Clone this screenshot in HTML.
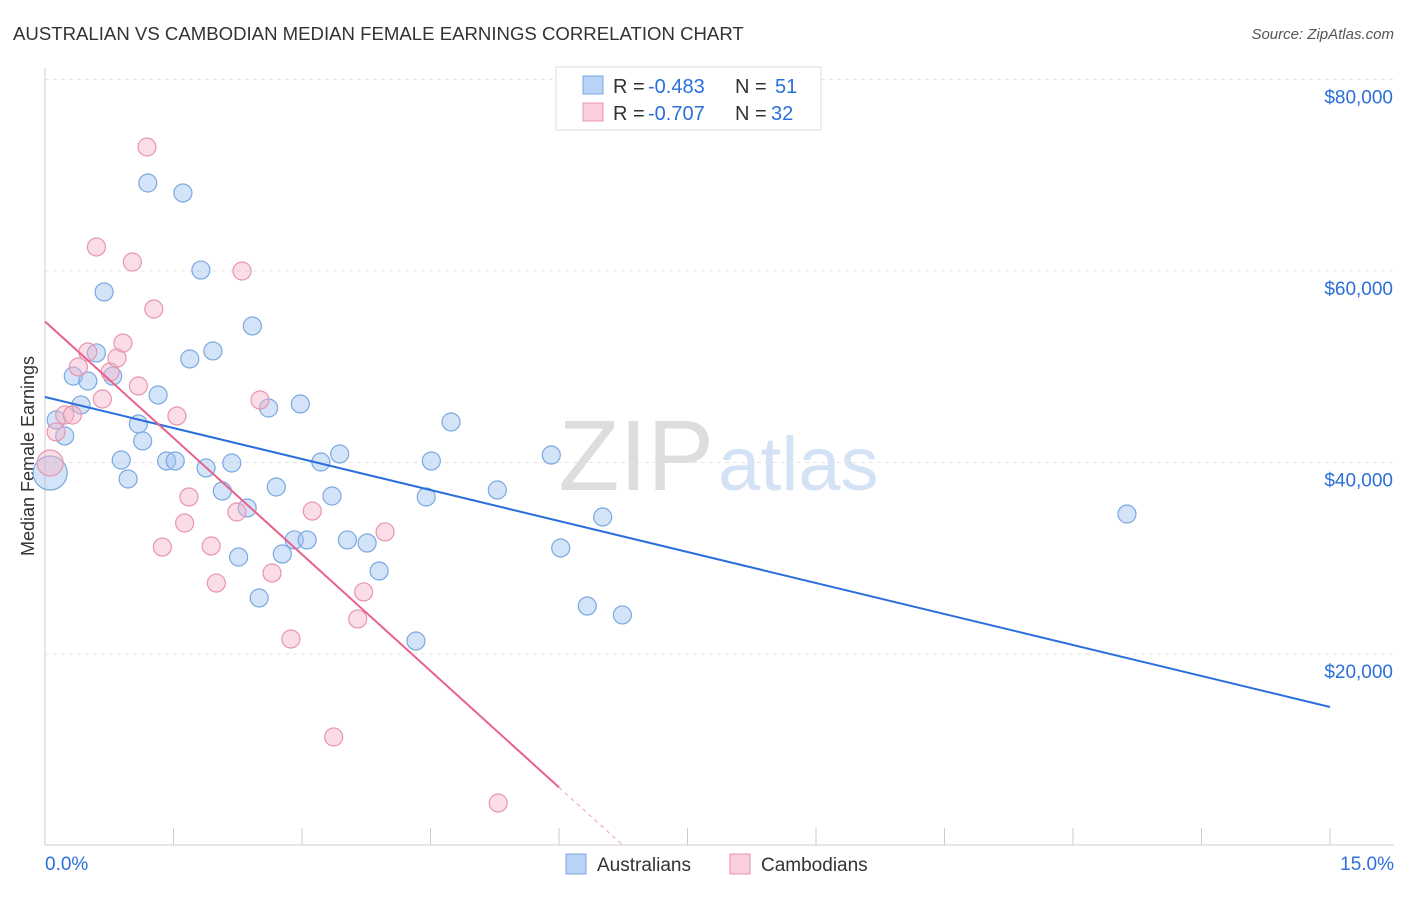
<!DOCTYPE html>
<html><head><meta charset="utf-8"><style>
body{margin:0;background:#fff;font-family:"Liberation Sans",sans-serif}
svg text{font-family:"Liberation Sans",sans-serif}
</style></head><body>
<svg id="c" width="1406" height="892">
<text x="13" y="40" font-size="18.6" fill="#333">AUSTRALIAN VS CAMBODIAN MEDIAN FEMALE EARNINGS CORRELATION CHART</text>
<text x="1394" y="39" font-size="15" fill="#555" font-style="italic" text-anchor="end">Source: ZipAtlas.com</text>
<text x="714" y="490" font-size="100" fill="#ddd" text-anchor="end" font-family="Liberation Serif">ZIP</text>
<text x="718" y="490" font-size="76" fill="#d4e2f5">atlas</text>
<text transform="translate(34,456) rotate(-90)" font-size="18" fill="#333" text-anchor="middle">Median Female Earnings</text>
<g id="grid"></g><g id="ticks"></g><g id="pts"></g><g id="lines"></g>
<g>
<rect x="556" y="67" width="265" height="63" fill="#fff" stroke="#ddd"/>
<rect x="583" y="76" width="20" height="18" fill="#b8d3f5" stroke="#7aa8e0"/>
<text x="613" y="93" font-size="20" fill="#333">R =</text>
<text x="648" y="93" font-size="20" fill="#2a6fdb">-0.483</text>
<text x="735" y="93" font-size="20" fill="#333">N =</text>
<text x="775" y="93" font-size="20" fill="#2a6fdb">51</text>
<rect x="583" y="103" width="20" height="18" fill="#fbd0dc" stroke="#e895b0"/>
<text x="613" y="120" font-size="20" fill="#333">R =</text>
<text x="648" y="120" font-size="20" fill="#2a6fdb">-0.707</text>
<text x="735" y="120" font-size="20" fill="#333">N =</text>
<text x="771" y="120" font-size="20" fill="#2a6fdb">32</text>
</g>
<g>
<rect x="566" y="854" width="20" height="20" fill="#b8d3f5" stroke="#7aa8e0"/>
<text x="597" y="871" font-size="19" fill="#333">Australians</text>
<rect x="730" y="854" width="20" height="20" fill="#fbd0dc" stroke="#e895b0"/>
<text x="761" y="871" font-size="19" fill="#333">Cambodians</text>
</g>
</svg>
<script>
const blueX=[0.13,0.06,0.23,0.33,0.50,0.42,0.60,0.69,0.79,0.89,0.97,1.09,1.14,1.20,1.32,1.42,1.52,1.61,1.69,1.82,1.88,1.96,2.07,2.18,2.26,2.36,2.42,2.50,2.61,2.70,2.77,2.91,2.98,3.06,3.22,3.35,3.44,3.53,3.76,3.90,4.33,4.45,4.51,4.74,5.28,5.91,6.02,6.33,6.51,6.74,12.63];
const blueY=[44440,38900,42770,49030,48510,46010,51440,57810,49030,40260,38280,44020,42250,69190,47050,40160,40160,68150,50810,60100,39430,51650,37020,39950,30130,35250,54260,25850,45690,37440,30440,31910,46110,31910,40050,36500,40890,31910,31590,28670,21360,36400,40160,44230,37130,40780,31070,25010,34310,24080,34620];
const pinkX=[0.06,0.13,0.23,0.32,0.39,0.50,0.60,0.67,0.76,0.84,0.91,1.02,1.09,1.19,1.27,1.37,1.54,1.63,1.68,1.94,2.00,2.24,2.30,2.51,2.65,2.87,3.12,3.37,3.65,3.72,3.97,5.29];
const pinkY=[39950,43190,44960,44960,49980,51540,62510,46630,49450,50910,52480,60940,47990,72950,56030,31170,44860,33680,36400,31280,27410,34830,60000,46530,28460,21570,34930,11330,23660,26480,32750,4440];
const yTicks=[20000,40000,60000,80000];
const blueTrend=[46840,14465];
const pinkTrend=[54730,-8110];
const NS='http://www.w3.org/2000/svg';
const X=v=>45+v/15*1285, Y=v=>845.5-v/20000*191.5;
function mk(t,a,p){const e=document.createElementNS(NS,t);for(const k in a)e.setAttribute(k,a[k]);document.getElementById(p).appendChild(e);return e;}
yTicks.forEach(t=>{
 const l=mk('line',{x1:45,x2:1394,y1:Y(t),y2:Y(t),stroke:'#e4e4e4','stroke-dasharray':'4 4'},'grid');
 
 
 const tx=mk('text',{x:1393,y:Y(t)+24,'font-size':19,fill:'#2a6fdb','text-anchor':'end'},'grid');
 tx.textContent='$'+t.toLocaleString('en-US');
 
 
});
mk('line',{x1:45,x2:45,y1:68,y2:845,stroke:'#ccc'},'ticks');
mk('line',{x1:45,x2:1394,y1:845,y2:845,stroke:'#ccc'},'ticks');
for(let i=0;i<=10;i++){const e=mk('line',{x1:X(i*1.5),x2:X(i*1.5),y1:828,y2:845,stroke:'#ccc'},'ticks');
 
 }
const t0=mk('text',{x:45,y:870,'font-size':19,fill:'#2a6fdb'},'ticks');t0.textContent='0.0%';


const t1=mk('text',{x:1394,y:870,'font-size':19,fill:'#2a6fdb','text-anchor':'end'},'ticks');t1.textContent='15.0%';


blueX.forEach((x,i)=>{const c=mk('circle',{cx:X(x),cy:Y(blueY[i]),r:i==1?17:9,fill:'rgba(160,196,240,0.45)',stroke:'#7aa8e0','stroke-width':1.2},'pts');
 
 });
pinkX.forEach((x,i)=>{const c=mk('circle',{cx:X(x),cy:Y(pinkY[i]),r:i==0?13:9,fill:'rgba(245,180,200,0.45)',stroke:'#e895b0','stroke-width':1.2},'pts');
 
 });
const bl=mk('line',{x1:X(0),y1:Y(blueTrend[0]),x2:X(15),y2:Y(blueTrend[1]),stroke:'#2a6fdb','stroke-width':2},'lines');


const pz=-pinkTrend[0]/pinkTrend[1];
const pl=mk('line',{x1:X(0),y1:Y(pinkTrend[0]),x2:X(6.0),y2:Y(pinkTrend[0]+pinkTrend[1]*6.0),stroke:'#e8608c','stroke-width':2},'lines');


const pd=mk('line',{x1:X(6.0),y1:Y(pinkTrend[0]+pinkTrend[1]*6.0),x2:X(pz),y2:Y(0),stroke:'#f0a0b8','stroke-width':1,'stroke-dasharray':'4 4'},'lines');


</script>
</body></html>
